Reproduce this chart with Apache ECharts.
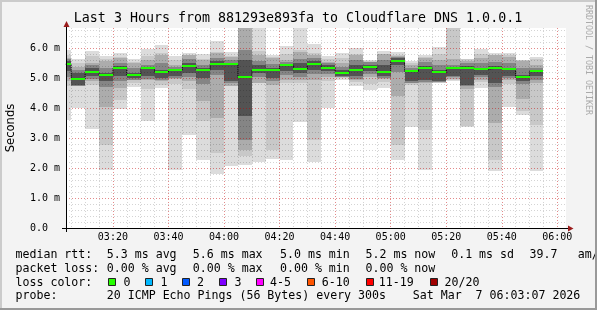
<!DOCTYPE html>
<html><head><meta charset="utf-8">
<script src="https://cdn.jsdelivr.net/npm/echarts@6/dist/echarts.min.js"></script>
<style>html,body{margin:0;padding:0;background:#f3f3f3}#c{width:597px;height:310px}</style>
</head><body><div id="c"></div>
<script>
// ---- data (milliseconds) ----
const barEnds = ['03:05','03:10','03:15','03:20','03:25','03:30','03:35','03:40','03:45','03:50','03:55','04:00','04:05','04:10','04:15','04:20','04:25','04:30','04:35','04:40','04:45','04:50','04:55','05:00','05:05','05:10','05:15','05:20','05:25','05:30','05:35','05:40','05:45','05:50','05:55'];
const median = [5.46,4.96,5.19,5.09,5.32,5.09,5.32,5.19,5.26,5.39,5.26,5.46,5.46,5.02,5.26,5.26,5.42,5.29,5.46,5.34,5.16,5.26,5.36,5.21,5.56,5.22,5.32,5.19,5.32,5.32,5.29,5.32,5.29,5.02,5.22];
const maxV = [5.94,5.63,5.91,5.72,5.83,5.63,5.98,6.11,5.74,5.85,5.80,6.24,5.86,7.60,6.80,5.78,6.06,6.80,6.14,5.74,5.83,6.00,5.61,5.89,5.88,5.56,5.78,6.03,7.20,5.63,5.98,5.83,5.83,5.61,5.70];
const minV = [3.61,4.00,3.30,1.92,3.97,4.69,3.56,4.67,1.92,3.11,2.28,1.80,2.06,2.11,2.19,2.30,2.28,3.52,2.19,4.00,4.95,4.72,4.61,4.67,2.26,3.37,1.92,4.83,4.89,3.36,4.67,1.89,4.02,3.76,1.89];
const l2hi = [5.78,5.50,5.75,5.62,5.70,5.55,5.72,5.85,5.60,5.76,5.62,5.88,5.74,7.30,5.90,5.70,5.80,5.95,5.85,5.62,5.66,5.80,5.58,5.80,5.78,5.50,5.70,5.80,6.90,5.62,5.80,5.76,5.76,5.60,5.62];
const l2lo = [4.72,4.72,4.78,2.78,4.26,4.82,4.62,4.76,4.80,4.62,3.56,2.50,4.72,2.39,4.83,2.61,4.82,4.82,2.94,4.90,5.00,4.86,4.80,4.86,2.78,4.76,3.26,4.85,4.95,3.40,4.86,2.28,4.80,3.89,3.44];
const l3hi = [5.66,5.38,5.50,5.58,5.66,5.50,5.60,5.76,5.44,5.76,5.60,5.82,5.70,7.00,5.76,5.66,5.60,5.88,5.78,5.55,5.50,5.76,5.52,5.80,5.74,5.44,5.66,5.60,5.62,5.58,5.66,5.76,5.70,5.58,5.44];
const l3lo = [4.90,4.74,4.90,4.03,4.67,4.92,4.92,4.90,4.96,4.90,4.24,3.67,4.75,2.60,4.85,4.76,4.92,4.92,4.92,5.02,5.02,4.92,5.02,4.96,4.40,4.82,4.82,4.86,4.98,4.62,4.92,3.50,4.92,4.30,4.82];
const l4hi = [5.62,5.28,5.42,5.35,5.50,5.35,5.45,5.50,5.36,5.62,5.45,5.68,5.60,5.94,5.58,5.48,5.52,5.65,5.66,5.50,5.38,5.60,5.52,5.60,5.70,5.33,5.52,5.42,5.45,5.50,5.50,5.55,5.50,5.35,5.33];
const l4lo = [5.05,4.75,4.98,4.70,4.90,4.95,4.98,4.95,5.00,5.05,4.80,5.10,4.82,2.94,5.05,4.90,5.10,5.05,5.15,5.12,5.02,4.98,5.12,5.00,5.20,4.85,4.88,4.88,5.02,4.72,5.02,4.70,5.00,4.80,4.95];
const l5hi = [5.56,5.17,5.33,5.17,5.39,5.17,5.33,5.28,5.30,5.50,5.33,5.56,5.50,5.61,5.44,5.33,5.44,5.50,5.56,5.44,5.28,5.44,5.44,5.44,5.67,5.22,5.39,5.28,5.33,5.39,5.33,5.39,5.33,5.11,5.22];
const l5lo = [5.22,4.78,5.06,4.89,5.06,5.00,5.06,5.00,5.06,5.17,5.00,5.28,4.89,3.74,5.17,5.00,5.22,5.17,5.28,5.22,5.06,5.06,5.22,5.06,5.44,4.89,4.94,4.90,5.06,4.78,5.11,4.83,5.06,4.89,5.06];
const yTicks = [0,1,2,3,4,5,6];
const lossLabels = ['0','1','2','3','4-5','6-10','11-19','20/20'];
const lossColors = ['#26ff00','#00b8ff','#0059ff','#7e00ff','#ff00ff','#ff5500','#ff0000','#a00000'];

// ---- helpers ----
const toMin = s => { const p = s.split(':'); return (+p[0]) * 60 + (+p[1]); };
const xMin = 183 + 7/60;   // 03:03:07
const xMax = xMin + 180;   // 06:03:07
const yMax = 20/3;
const pad = n => (n < 10 ? '0' : '') + n;

const smokeData = barEnds.map((e, i) => {
  const end = toMin(e), start = end - 5;
  return [start, end, minV[i], maxV[i], l2lo[i], l2hi[i], l3lo[i], l3hi[i], l4lo[i], l4hi[i], l5lo[i], l5hi[i]];
});
const medData = barEnds.map((e, i) => { const end = toMin(e); return [end - 5, end, median[i]]; });
const stepData = barEnds.map((e, i) => [toMin(e) - 2.5, median[i]]);

const layerColors = ['#dcdcdc','#c8c8c8','#acacac','#858585','#535353'];

function smokeItem(params, api) {
  const cs = params.coordSys;
  const clip = {x: cs.x, y: cs.y, width: cs.width, height: cs.height};
  const x0 = api.value(0), x1 = api.value(1);
  const children = [];
  for (let i = 0; i < 5; i++) {
    const lo = api.value(2 + 2*i), hi = api.value(3 + 2*i);
    const p0 = api.coord([x0, hi]), p1 = api.coord([x1, lo]);
    const px0 = Math.round(p0[0]), px1 = Math.round(p1[0]);
    const py0 = Math.round(p0[1]), py1 = Math.round(p1[1]);
    const r = echarts.graphic.clipRectByRect({x: px0, y: py0, width: px1 - px0, height: py1 - py0}, clip);
    if (r) children.push({type: 'rect', shape: r, style: {fill: layerColors[i]}});
  }
  return {type: 'group', children};
}
function medItem(params, api) {
  const cs = params.coordSys;
  const p0 = api.coord([api.value(0), api.value(2)]);
  const p1 = api.coord([api.value(1), api.value(2)]);
  const xa = Math.max(Math.round(p0[0]), cs.x), xb = Math.min(Math.round(p1[0]), cs.x + cs.width);
  const y = Math.round(p0[1]);
  return {type: 'rect', shape: {x: xa, y: y - 1, width: xb - xa, height: 2}, style: {fill: '#20ff00'}};
}

const mono = 'DejaVu Sans Mono';
const g = [];
function txt(x, y, s, o) {
  g.push(Object.assign({type: 'text', x: x, y: y, z: 10,
    style: Object.assign({text: s, x: 0, y: 0, font: '11.6px "' + mono + '"', fill: '#000', align: 'left', verticalAlign: 'middle'}, (o && o.style) || {})},
    o && o.rotation !== undefined ? {rotation: o.rotation} : {}));
}
// title, side texts
txt(298, 19, 'Last 3 Hours from 881293e893fa to Cloudflare DNS 1.0.0.1', {style: {font: '13.3px "' + mono + '"', align: 'center'}});
txt(10.5, 128, 'Seconds', {rotation: Math.PI/2, style: {font: '11.6px "DejaVu Sans"', align: 'center'}});
txt(588, 5, 'RRDTOOL / TOBI OETIKER', {rotation: -Math.PI/2, style: {font: '8.3px "' + mono + '"', fill: '#aaaaaa'}});
// legend rows
const r1 = 255, r2 = 268.5, r3 = 282.5, r4 = 296;
txt(15.5, r1, 'median rtt:'); txt(106.8, r1, '5.3 ms avg'); txt(192.8, r1, '5.6 ms max'); txt(280, r1, '5.0 ms min');
txt(365.5, r1, '5.2 ms now'); txt(451.2, r1, '0.1 ms sd'); txt(529.5, r1, '39.7'); txt(577.8, r1, 'am/s');
txt(15.5, r2, 'packet loss:'); txt(106.8, r2, '0.00 % avg'); txt(192.8, r2, '0.00 % max'); txt(280, r2, '0.00 % min'); txt(365.5, r2, '0.00 % now');
txt(15.5, r3, 'loss color:');
const boxX = [108.5, 145.5, 182.5, 219.5, 256.5, 307.5, 366.5, 430.5];
const labX = [123.5, 160.5, 197, 234.5, 270, 321.8, 378.8, 444.5];
lossLabels.forEach((l, i) => {
  g.push({type: 'rect', z: 10, shape: {x: boxX[i], y: 278.5, width: 7, height: 7}, style: {fill: lossColors[i], stroke: '#222', lineWidth: 1}});
  txt(labX[i], r3, l);
});
txt(15.5, r4, 'probe:'); txt(106.8, r4, '20 ICMP Echo Pings (56 Bytes) every 300s'); txt(412.8, r4, 'Sat Mar  7 06:03:07 2026');
// axis extensions and arrows
g.push({type: 'line', z: 10, shape: {x1: 62, y1: 228.5, x2: 568, y2: 228.5}, style: {stroke: '#000', lineWidth: 1}});
g.push({type: 'line', z: 10, shape: {x1: 66.5, y1: 232, x2: 66.5, y2: 24}, style: {stroke: '#000', lineWidth: 1}});
g.push({type: 'polygon', z: 11, shape: {points: [[568, 225.5], [573.5, 228.5], [568, 231.5]]}, style: {fill: '#9b1c1c'}});
g.push({type: 'polygon', z: 11, shape: {points: [[63.5, 27], [66.5, 21], [69.5, 27]]}, style: {fill: '#9b1c1c'}});
// frame
g.push({type: 'rect', z: 20, shape: {x: 0, y: 0, width: 597, height: 2}, style: {fill: '#cbcbcb'}});
g.push({type: 'rect', z: 20, shape: {x: 0, y: 0, width: 2, height: 310}, style: {fill: '#cbcbcb'}});
g.push({type: 'rect', z: 21, shape: {x: 0, y: 308, width: 597, height: 2}, style: {fill: '#999999'}});
g.push({type: 'rect', z: 21, shape: {x: 595, y: 0, width: 2, height: 310}, style: {fill: '#999999'}});

const redGrid = {color: 'rgba(255,0,0,0.35)', type: [1, 2], width: 1};
const grayGrid = {color: 'rgba(0,0,0,0.17)', type: [1, 2], width: 1};

const chart = echarts.init(document.getElementById('c'), null, {renderer: 'canvas'});
chart.setOption({
  animation: false,
  backgroundColor: '#f3f3f3',
  grid: {left: 66, right: 31, top: 28, bottom: 82, show: true, backgroundColor: '#ffffff', borderWidth: 0},
  xAxis: [{
    type: 'value', min: xMin, max: xMax, minInterval: 20, maxInterval: 20, z: 4,
    axisLine: {show: false}, axisTick: {show: false},
    axisLabel: {margin: 4, fontFamily: mono, fontSize: 10, color: '#000', showMinLabel: false, showMaxLabel: false,
      formatter: v => { const m = Math.round(v); if (Math.abs(v - m) > 1e-6 || m % 20) return ''; return pad(Math.floor(m/60)) + ':' + pad(m % 60); }},
    splitLine: {show: true, showMinLine: false, showMaxLine: false, lineStyle: redGrid}
  }, {
    type: 'value', min: xMin, max: xMax, minInterval: 5, maxInterval: 5, z: 3, position: 'bottom',
    axisLine: {show: false}, axisTick: {show: false}, axisLabel: {show: false},
    splitLine: {show: true, showMinLine: false, showMaxLine: false, lineStyle: grayGrid}
  }],
  yAxis: [{
    type: 'value', min: 0, max: yMax, minInterval: 1, maxInterval: 1, z: 4,
    axisLine: {show: false}, axisTick: {show: false},
    axisLabel: {align: 'left', margin: 36, fontFamily: mono, fontSize: 10, color: '#000', showMaxLabel: false,
      formatter: v => { if (yTicks.indexOf(Math.round(v * 1000) / 1000) < 0) return ''; return v === 0 ? '0.0' : v.toFixed(1) + ' m'; }},
    splitLine: {show: true, showMinLine: false, showMaxLine: false, lineStyle: redGrid}
  }, {
    type: 'value', min: 0, max: yMax, minInterval: 0.2, maxInterval: 0.2, z: 3, position: 'left',
    axisLine: {show: false}, axisTick: {show: false}, axisLabel: {show: false},
    splitLine: {show: true, showMinLine: false, showMaxLine: false, lineStyle: grayGrid}
  }],
  series: [
    {type: 'custom', name: 'smoke', renderItem: smokeItem, data: smokeData, encode: {x: [0, 1], y: [2, 3]}, z: 2, silent: true},
    {type: 'line', name: 'step', data: stepData, step: 'middle', showSymbol: false, symbol: 'none', clip: true, z: 5,
      lineStyle: {color: '#000', width: 1, type: [1, 1]}, silent: true},
    {type: 'custom', name: 'median', renderItem: medItem, data: medData, encode: {x: [0, 1], y: 2}, z: 6, silent: true}
  ],
  graphic: g
});
</script></body></html>
